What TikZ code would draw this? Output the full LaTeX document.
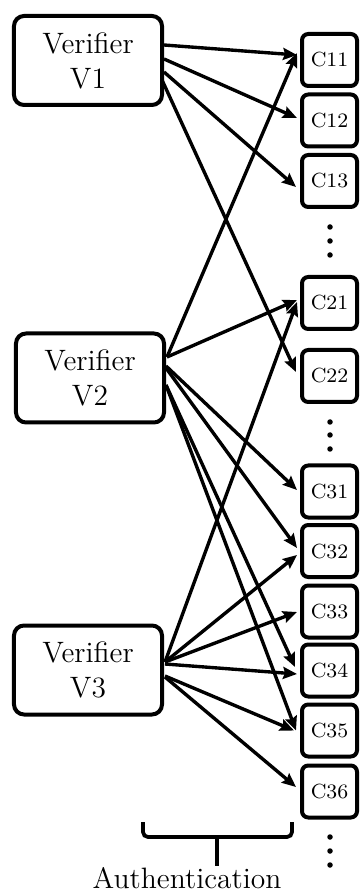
\documentclass[tikz,border=0pt]{standalone}
\usetikzlibrary{arrows.meta,calc}
\begin{document}
\begin{tikzpicture}[x=0.4pt,y=-0.4pt,
  verifier/.style={draw,line width=1.6pt,rounded corners=4pt,minimum width=59.2pt,
    minimum height=35.6pt,inner sep=0pt,align=center,font=\fontsize{11.8}{14}\selectfont},
  cbox/.style={draw,line width=1.6pt,rounded corners=2.5pt,minimum width=22pt,
    minimum height=20.8pt,inner sep=0pt,font=\fontsize{8.2}{10}\selectfont},
  link/.style={line width=1.35pt,-{Stealth[length=5.6pt,width=4.8pt,inset=0.8pt]}},
  dot/.style={circle,fill,inner sep=0pt,minimum size=2.2pt}]
\useasboundingbox (0,0) rectangle (360,890);

% verifiers
\node[verifier] (V1) at (88,60.5) {Verifier\\V1};
\node[verifier] (V2) at (90,378) {Verifier\\V2};
\node[verifier] (V3) at (88,670) {Verifier\\V3};

% credential column
\node[cbox] (C11) at (329.5,60)    {C11};
\node[cbox] (C12) at (329.5,120.5) {C12};
\node[cbox] (C13) at (329.5,181)   {C13};
\node[cbox] (C21) at (329.5,303)   {C21};
\node[cbox] (C22) at (329.5,376)   {C22};
\node[cbox] (C31) at (329.5,491.5) {C31};
\node[cbox] (C32) at (329.5,551)   {C32};
\node[cbox] (C33) at (329.5,611.5) {C33};
\node[cbox] (C34) at (329.5,670.5) {C34};
\node[cbox] (C35) at (329.5,730.5) {C35};
\node[cbox] (C36) at (329.5,791.5) {C36};

% ellipses between groups
\foreach \y [count=\i] in {227,241,255} \node[dot] (d1\i) at (330,\y) {};
\foreach \y [count=\i] in {422,435,449} \node[dot] (d2\i) at (330,\y) {};
\foreach \y [count=\i] in {837,851,865} \node[dot] (d3\i) at (330,\y) {};

% links from V1
\draw[link] ($(V1.east)+(0,-15.5)$) -- ($(C11.west)+(-3,-5)$);
\draw[link] ($(V1.east)+(0,-1.5)$)  -- ($(C12.west)+(-3,-2.5)$);
\draw[link] ($(V1.east)+(0,11.5)$)  -- ($(C13.west)+(-4,6)$);
\draw[link] ($(V1.east)+(-2,19.5)$) -- ($(C22.west)+(-4,-4)$);

% links from V2
\draw[link] ($(V2.east)+(1,-21)$)  -- ($(C11.west)+(-3,-7)$);
\draw[link] ($(V2.east)+(1,-21)$)  -- ($(C21.west)+(-3,-3)$);
\draw[link] ($(V2.east)+(0,-12)$)  -- ($(C31.west)+(-3,-1.5)$);
\draw[link] ($(V2.east)+(0,-10)$)  -- ($(C32.west)+(-3,-3)$);
\draw[link] ($(V2.east)+(0,7)$)    -- ($(C34.west)+(-5,-3.5)$);
\draw[link] ($(V2.east)+(0,7)$)    -- ($(C35.west)+(-4,0)$);

% links from V3
\draw[link] ($(V3.east)+(1,-8)$) -- ($(C21.west)+(-3,-1)$);
\draw[link] ($(V3.east)+(1,-8)$) -- ($(C32.west)+(-3,4)$);
\draw[link] ($(V3.east)+(1,-8)$) -- ($(C33.west)+(-3,0.5)$);
\draw[link] ($(V3.east)+(1,-6)$) -- ($(C34.west)+(-3,3.5)$);
\draw[link] ($(V3.east)+(1,6)$)  -- ($(C35.west)+(-6,0)$);
\draw[link] ($(V3.east)+(1,7)$)  -- ($(C36.west)+(-4,-4.5)$);

% brace under the links
\draw[line width=1.5pt,rounded corners=2pt] (143,822) -- (143,837) -- (292,837) -- (292,822);
\draw[line width=1.5pt] (217,837) -- (217,866);
\node[anchor=base,font=\fontsize{11.8}{14}\selectfont,inner sep=0pt] (auth) at (187,888) {Authentication};
\end{tikzpicture}
\end{document}
